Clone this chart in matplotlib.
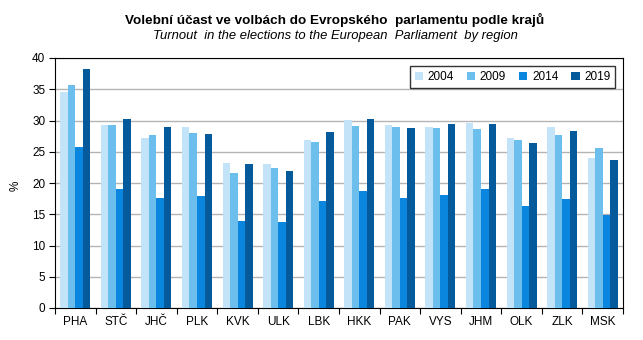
import numpy as np
import matplotlib.pyplot as plt

plt.rcParams['font.family'] = ['Liberation Sans', 'DejaVu Sans']

regions = ['PHA', 'STČ', 'JHČ', 'PLK', 'KVK', 'ULK', 'LBK', 'HKK', 'PAK', 'VYS', 'JHM', 'OLK', 'ZLK', 'MSK']
years = ['2004', '2009', '2014', '2019']
t2004 = [34.6, 29.3, 27.2, 29.0, 23.2, 23.1, 26.9, 30.1, 29.3, 29.0, 29.6, 27.2, 29.0, 24.0]
t2009 = [35.7, 29.3, 27.7, 28.0, 21.6, 22.4, 26.6, 29.1, 29.0, 28.8, 28.7, 26.9, 27.7, 25.6]
t2014 = [25.8, 19.1, 17.6, 18.0, 14.0, 13.8, 17.2, 18.8, 17.6, 18.1, 19.1, 16.4, 17.5, 14.9]
t2019 = [38.2, 30.3, 29.0, 27.9, 23.1, 21.9, 28.2, 30.3, 28.8, 29.5, 29.5, 26.4, 28.3, 23.7]
colors = ['#C2E3F8', '#6CBEEC', '#0A86DE', '#055A9B']

fig = plt.figure(figsize=(6.43, 3.4), dpi=100)
ax = fig.add_axes([55/643, 1 - 308/340, 568/643, 250/340])

x = np.arange(len(regions))
w = 0.185
for i, (vals, yr) in enumerate(zip([t2004, t2009, t2014, t2019], years)):
    ax.bar(x + (i - 1.5) * w, vals, w, color=colors[i], label=yr, zorder=3)

ax.set_xlim(-0.5, len(regions) - 0.5)
ax.set_ylim(0, 40)
ax.set_yticks(range(0, 41, 5))
ax.yaxis.grid(True, color='#B4B4B4', linewidth=1, zorder=0)
ax.set_xticks(x)
ax.set_xticklabels(regions, fontsize=8.5)
ax.tick_params(axis='x', length=0, pad=6)
ax.set_xticks(np.arange(-0.5, len(regions), 1), minor=True)
ax.tick_params(axis='x', which='minor', length=4, width=0.8)
ax.tick_params(axis='y', labelsize=8.5, length=4, width=0.8, pad=3)
for s in ax.spines.values():
    s.set_linewidth(0.8)
ax.set_ylabel('%', fontsize=8.5)
ax.yaxis.set_label_coords(-0.058, 0.49)

leg = ax.legend(loc='upper right', ncol=4, fontsize=8.5, frameon=True, fancybox=False,
                edgecolor='black', handlelength=0.7, handleheight=0.7,
                handletextpad=0.4, columnspacing=1.1, borderaxespad=0.4,
                bbox_to_anchor=(0.995, 0.985))
leg.get_frame().set_linewidth(1.0)

fig.text(0.521, 1 - 20/340, 'Volební účast ve volbách do Evropského  parlamentu podle krajů',
         ha='center', va='center', fontsize=9.7, fontweight='bold')
fig.text(0.521, 1 - 36/340, 'Turnout  in the elections to the European  Parliament  by region',
         ha='center', va='center', fontsize=9.4, style='italic')

fig.savefig('out.png', dpi=100)
